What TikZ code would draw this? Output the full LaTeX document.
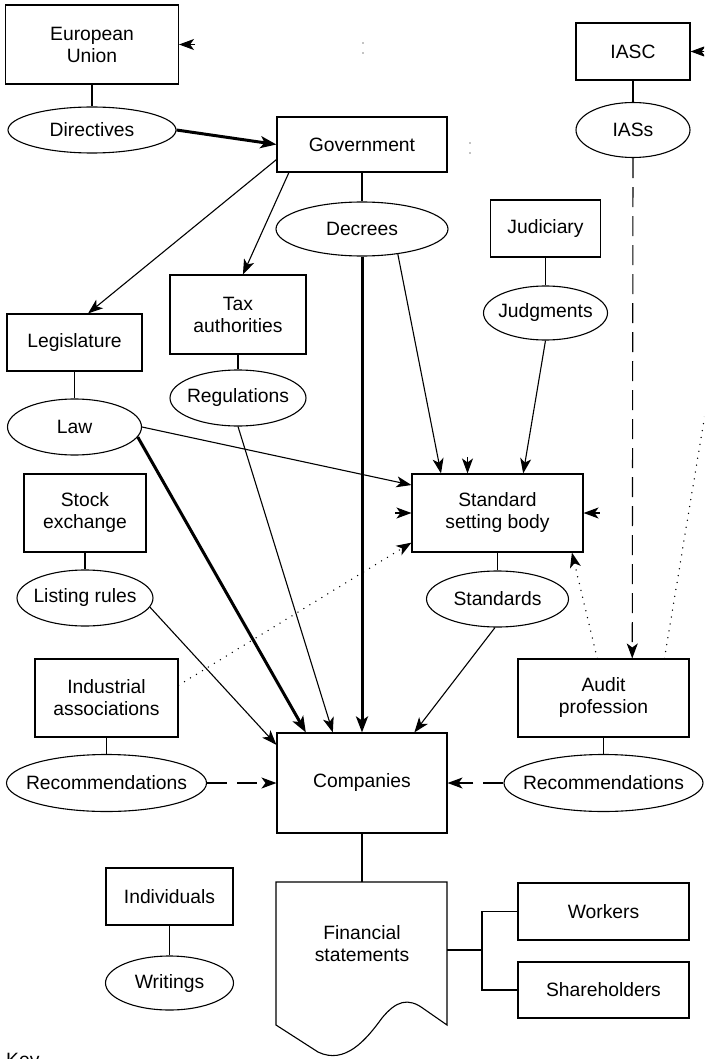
\documentclass[tikz,border=0pt]{standalone}
\usepackage{fontspec}
\setmainfont{Liberation Sans}
\usetikzlibrary{shapes.geometric,arrows.meta,calc}
\newcommand{\ctext}[1]{\makebox[0pt]{#1}}
\begin{document}
\begin{tikzpicture}[x=1pt,y=-1pt,
  every node/.style={font=\fontsize{19.3}{22}\selectfont},
  box/.style={draw, line width=1.1pt, rectangle, inner sep=0pt, align=center},
  oval/.style={draw, line width=1.1pt, ellipse, inner sep=0pt},
  con/.style={line width=1.1pt},
  tip/.style={-{Stealth[length=15pt,width=11pt,inset=4pt]}},
  arr/.style={con, tip},
  thk/.style={line width=3pt, -{Stealth[length=16pt,width=12pt,inset=4pt]}},
  dotline/.style={line width=1.5pt, line cap=round, dash pattern=on 0pt off 7pt},
  dotarr/.style={dotline, tip},
  dasharr/.style={con, dash pattern=on 20pt off 10pt, tip},
  longdash/.style={con, dash pattern=on 20pt off 9pt, tip}
]
\clip (0,0) rectangle (704,1059);
\useasboundingbox (0,0) rectangle (704,1059);

% nodes
\node[box,minimum width=173pt,minimum height=79pt] (eu) at (92,44.5) {European\\Union};
\node[oval,minimum width=168pt,minimum height=46pt] (dir) at (92,130) {\ctext{Directives}};
\node[box,minimum width=170pt,minimum height=55pt] (gov) at (362,144.5) {Government};
\node[box,minimum width=114pt,minimum height=57pt] (iasc) at (633,51.5) {IASC};
\node[oval,minimum width=114pt,minimum height=55pt] (iass) at (633,130) {\ctext{IASs}};
\node[oval,minimum width=172pt,minimum height=54pt] (decrees) at (362,229) {\ctext{Decrees}};
\node[box,minimum width=110pt,minimum height=57pt] (jud) at (545.5,228.5) {Judiciary};
\node[oval,minimum width=124pt,minimum height=54pt] (judg) at (545.5,313) {\ctext{Judgments}};
\node[box,minimum width=136pt,minimum height=79pt] (tax) at (238,314.5) {Tax\\authorities};
\node[oval,minimum width=136pt,minimum height=56pt] (reg) at (238,398) {\ctext{Regulations}};
\node[box,minimum width=135pt,minimum height=57pt] (leg) at (74.5,342.5) {Legislature};
\node[oval,minimum width=134pt,minimum height=56pt] (law) at (74.5,427) {\ctext{Law}};
\node[box,minimum width=122pt,minimum height=78pt] (stock) at (85,513) {Stock\\exchange};
\node[oval,minimum width=136pt,minimum height=56pt] (list) at (85,598) {\ctext{Listing rules}};
\node[box,minimum width=143pt,minimum height=78pt] (ind) at (106.5,698) {Industrial\\associations};
\node[oval,minimum width=200pt,minimum height=57pt] (recl) at (106.5,783) {\ctext{Recommendations}};
\node[box,minimum width=171pt,minimum height=78pt] (ssb) at (497.5,513) {Standard\\setting body};
\node[oval,minimum width=142pt,minimum height=56pt] (std) at (497.5,599) {\ctext{Standards}};
\node[box,minimum width=171pt,minimum height=78pt] (aud) at (603.5,698) {Audit\\profession};
\node[oval,minimum width=199pt,minimum height=57pt] (recr) at (603.5,783) {\ctext{Recommendations}};
\node[box,minimum width=170pt,minimum height=100pt] (comp) at (362,783) {Companies};
\node[align=center] (fs) at (362,944) {Financial\\statements};
\node[box,minimum width=171pt,minimum height=57pt] (work) at (603.5,911.5) {Workers};
\node[box,minimum width=171pt,minimum height=56pt] (share) at (603.5,990) {Shareholders};
\node[box,minimum width=127pt,minimum height=57pt] (indiv) at (169.5,896.5) {Individuals};
\node[oval,minimum width=128pt,minimum height=54pt] (writ) at (169.5,983) {\ctext{Writings}};
\node[anchor=base west,inner sep=0pt] (key) at (6,1066) {Key};

% financial statements document shape
\draw[line width=1.1pt] (276,882) -- (447,882) -- (447,1025) -- (424,1009)
  .. controls (408,997) and (396,1001) .. (382,1018)
  .. controls (366,1040) and (345,1065) .. (318,1052) -- (276,1025) -- cycle;
\coordinate (fstop) at (362,882);
\coordinate (fsr) at (447,950);
\coordinate (jn) at (482,950);

% plain connectors
\draw[con] (eu.south) -- (dir.north);
\draw[con] (iasc.south) -- (iass.north);
\draw[con] (gov.south) -- (decrees.north);
\draw[con] (jud.south) -- (judg.north);
\draw[con] (tax.south) -- (reg.north);
\draw[con] (leg.south) -- (law.north);
\draw[con] (stock.south) -- (list.north);
\draw[con] (ind.south) -- (recl.north);
\draw[con] (ssb.south) -- (std.north);
\draw[con] (aud.south) -- (recr.north);
\draw[con] (indiv.south) -- (writ.north);
\draw[con] (comp.south) -- (fstop);
\draw[con] (fsr) -- (jn);
\draw[con] (jn) |- (work.west);
\draw[con] (jn) |- (share.west);

% arrows
\draw[thk] (dir.east) -- (gov.west);
\draw[arr] (gov.190) -- (leg.65);
\draw[arr] (gov.201) -- (tax.83);
\draw[thk] (decrees.south) -- (comp.north);
\draw[arr] (decrees.-35) -- (ssb.145);
\draw[arr] (judg.south) -- (ssb.57);
\draw[arr] (law.east) -- (ssb.162);
\draw[thk] (law.-9) -- (comp.138);
\draw[arr] (reg.south) -- (comp.120);
\draw[arr] (std.-95) -- (comp.44);
\draw[arr] (list.-8) -- (comp.156);
\draw[dotarr] (ind.10) -- (ssb.199);
\draw[dasharr] (recl.east) -- (comp.west);
\draw[dasharr] (recr.west) -- (comp.east);
\draw[longdash] (iass.south) -- (aud.54);
\draw[dotarr] (aud.99.5) -- (ssb.-28);
\coordinate (offr) at (714,360);
\draw[dotline] (aud.33.2) -- (offr);

% stray arrowheads
\coordinate (t1) at ($(eu.east)+(16,0)$);
\draw[arr] (t1) -- (eu.east);
\coordinate (t2) at ($(iasc.east)+(16,0)$);
\draw[arr] (t2) -- (iasc.east);
\coordinate (t3h) at ($(ssb.north)+(-30,0)$);
\coordinate (t3) at ($(t3h)+(0,-16)$);
\draw[arr] (t3) -- (t3h);
\coordinate (t4) at ($(ssb.west)+(-16,0)$);
\draw[arr] (t4) -- (ssb.west);
\coordinate (t5) at ($(ssb.east)+(16,0)$);
\draw[arr] (t5) -- (ssb.east);

% stray dots
\fill (363,43) circle (0.7);
\fill (363,53) circle (0.7);
\fill (470,143) circle (0.7);
\fill (470,153) circle (0.7);
\end{tikzpicture}
\end{document}
